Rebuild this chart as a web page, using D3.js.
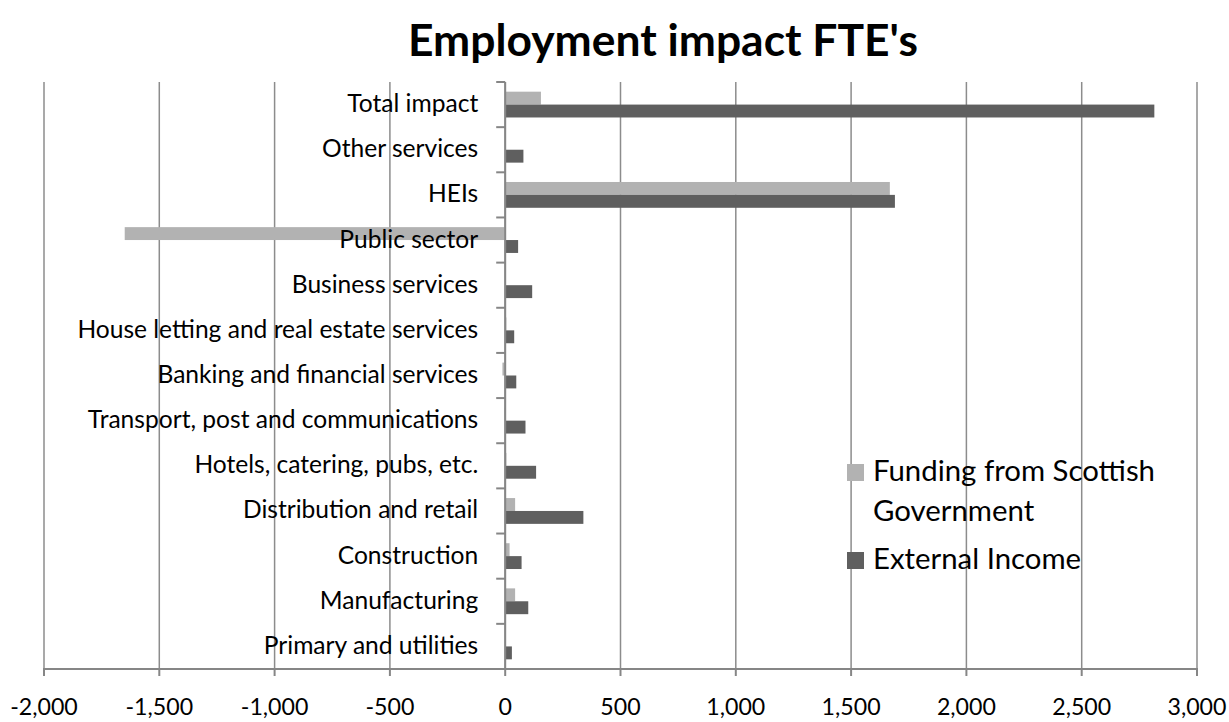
<!DOCTYPE html>
<html>
<head>
<meta charset="utf-8">
<style>
/*	page and chart styles	*/
body {
  margin: 0;
  background: #fff;
}

#chart-svg {
  display: block;
  font-family: Lato, "Open Sans", sans-serif;
}

.grid line {
  stroke: #8c8c8c;
  stroke-width: 1.5px;
}

.axis-line {
  stroke: #868686;
  stroke-width: 2px;
}

.cat-label,
.tick-label,
.legend-label,
.title {
  fill: #000;
}
</style>
</head>
<body>
<svg id="chart-svg" width="1229" height="722"></svg>

<script src="https://cdn.jsdelivr.net/npm/d3@7/dist/d3.min.js"></script>
<script>

//	data (top to bottom)
var categories = [
  "Total impact",
  "Other services",
  "HEIs",
  "Public sector",
  "Business services",
  "House letting and real estate services",
  "Banking and financial services",
  "Transport, post and communications",
  "Hotels, catering, pubs, etc.",
  "Distribution and retail",
  "Construction",
  "Manufacturing",
  "Primary and utilities"
];

var fundingScottishGov = [155, 0, 1668, -1650, 0, 5, -12, -4, 5, 43, 19, 43, 3];
var externalIncome = [2815, 79, 1690, 56, 117, 39, 48, 88, 134, 339, 71, 100, 29];

var seriesNames = ["Funding from Scottish Government", "External Income"];
var seriesColors = ["#b2b2b2", "#5f5f5f"];

var xTicks = [-2000, -1500, -1000, -500, 0, 500, 1000, 1500, 2000, 2500, 3000];

//	svg selection and sizing
var svg = d3.select("svg#chart-svg"),
    width = 1229,
    height = 722,
    plot = {left: 44, right: 1197, top: 82, bottom: 669};

// size a font so that a sample string gets a given width (reference font is Calibri)
function fitFont(text, target, weight) {
  var t = svg.append("text")
      .attr("font-size", 100)
      .attr("font-weight", weight)
      .text(text);
  var w = t.node().getComputedTextLength();
  t.remove();
  return 100 * target / w;
}

var catSize = fitFont("House letting and real estate services", 401, "normal"),
    tickSize = fitFont("1,000", 59, "normal"),
    legendSize = fitFont("Funding from Scottish", 282, "normal"),
    titleSize = fitFont("Employment impact FTE's", 510, "bold");

var fmt = d3.formatLocale({decimal: ".", thousands: ",", grouping: [3], currency: ["", ""], minus: "-"}).format(",");

//	scales
var x = d3.scaleLinear()
    .domain([-2000, 3000])
    .range([plot.left, plot.right]);

var y = d3.scaleBand()
    .domain(categories)
    .range([plot.top, plot.bottom])
    .padding(0);

var ySeries = d3.scaleBand()
    .domain(seriesNames)
    .range([0, y.step()])
    .paddingInner(0)
    .paddingOuter(0.75);

var rows = categories.map(function(c, i) {
  return {cat: c, values: [fundingScottishGov[i], externalIncome[i]]};
});

//	vertical gridlines
svg.append("g")
    .attr("class", "grid")
  .selectAll("line")
  .data(xTicks)
  .enter().append("line")
    .attr("x1", function(d) { return x(d); })
    .attr("x2", function(d) { return x(d); })
    .attr("y1", plot.top)
    .attr("y2", plot.bottom);

//	bars
var group = svg.append("g").selectAll("g")
  .data(rows)
  .enter().append("g")
    .attr("transform", function(d) { return "translate(0," + y(d.cat) + ")"; });

group.selectAll("rect")
  .data(function(d) {
    return d.values.map(function(v, j) { return {series: seriesNames[j], value: v, j: j}; });
  })
  .enter().append("rect")
    .attr("x", function(d) { return x(Math.min(0, d.value)); })
    .attr("width", function(d) { return Math.abs(x(d.value) - x(0)); })
    .attr("y", function(d) { return ySeries(d.series); })
    .attr("height", ySeries.bandwidth())
    .attr("fill", function(d) { return seriesColors[d.j]; });

//	category axis at zero, ticks between categories
var yAxis = svg.append("g");
yAxis.append("line")
    .attr("class", "axis-line")
    .attr("x1", x(0)).attr("x2", x(0))
    .attr("y1", plot.top).attr("y2", plot.bottom);

yAxis.selectAll(".ytick")
  .data(categories.concat([null]))
  .enter().append("line")
    .attr("class", "axis-line ytick")
    .attr("x1", x(0) - 9).attr("x2", x(0))
    .attr("y1", function(d) { return d === null ? plot.bottom : y(d); })
    .attr("y2", function(d) { return d === null ? plot.bottom : y(d); });

//	value axis
var xAxis = svg.append("g");
xAxis.append("line")
    .attr("class", "axis-line")
    .attr("x1", plot.left - 1).attr("x2", plot.right + 1)
    .attr("y1", plot.bottom).attr("y2", plot.bottom);

xAxis.selectAll(".xtick")
  .data(xTicks)
  .enter().append("line")
    .attr("class", "axis-line xtick")
    .attr("x1", function(d) { return x(d); })
    .attr("x2", function(d) { return x(d); })
    .attr("y1", plot.bottom).attr("y2", plot.bottom + 7);

xAxis.selectAll(".tick-label")
  .data(xTicks)
  .enter().append("text")
    .attr("class", "tick-label")
    .attr("x", function(d) { return x(d); })
    .attr("y", plot.bottom + 46)
    .attr("text-anchor", "middle")
    .attr("font-size", tickSize)
    .text(function(d) { return fmt(d); });

//	category labels, drawn over the bars
svg.append("g").selectAll("text")
  .data(categories)
  .enter().append("text")
    .attr("class", "cat-label")
    .attr("x", x(0) - 27)
    .attr("y", function(d) { return y(d) + y.bandwidth() / 2 + 7.5; })
    .attr("text-anchor", "end")
    .attr("font-size", catSize)
    .text(function(d) { return d; });

//	title
svg.append("text")
    .attr("class", "title")
    .attr("x", 663)
    .attr("y", 56)
    .attr("text-anchor", "middle")
    .attr("font-weight", "bold")
    .attr("font-size", titleSize)
    .text("Employment impact FTE's");

//	legend
var legend = svg.append("g")
    .attr("transform", "translate(847,464)");

var legendLines = [["Funding from Scottish", "Government"], ["External Income"]];
var legendY = [0, 88];

legendLines.forEach(function(lines, i) {
  legend.append("rect")
      .attr("x", 0)
      .attr("y", legendY[i])
      .attr("width", 17)
      .attr("height", 17)
      .attr("fill", seriesColors[i]);

  var t = legend.append("text")
      .attr("class", "legend-label")
      .attr("x", 26)
      .attr("y", legendY[i] + 17)
      .attr("font-size", legendSize);

  t.selectAll("tspan")
    .data(lines)
    .enter().append("tspan")
      .attr("x", 26)
      .attr("dy", function(d, k) { return k === 0 ? 0 : 40; })
      .text(function(d) { return d; });
});

</script>
</body>
</html>
